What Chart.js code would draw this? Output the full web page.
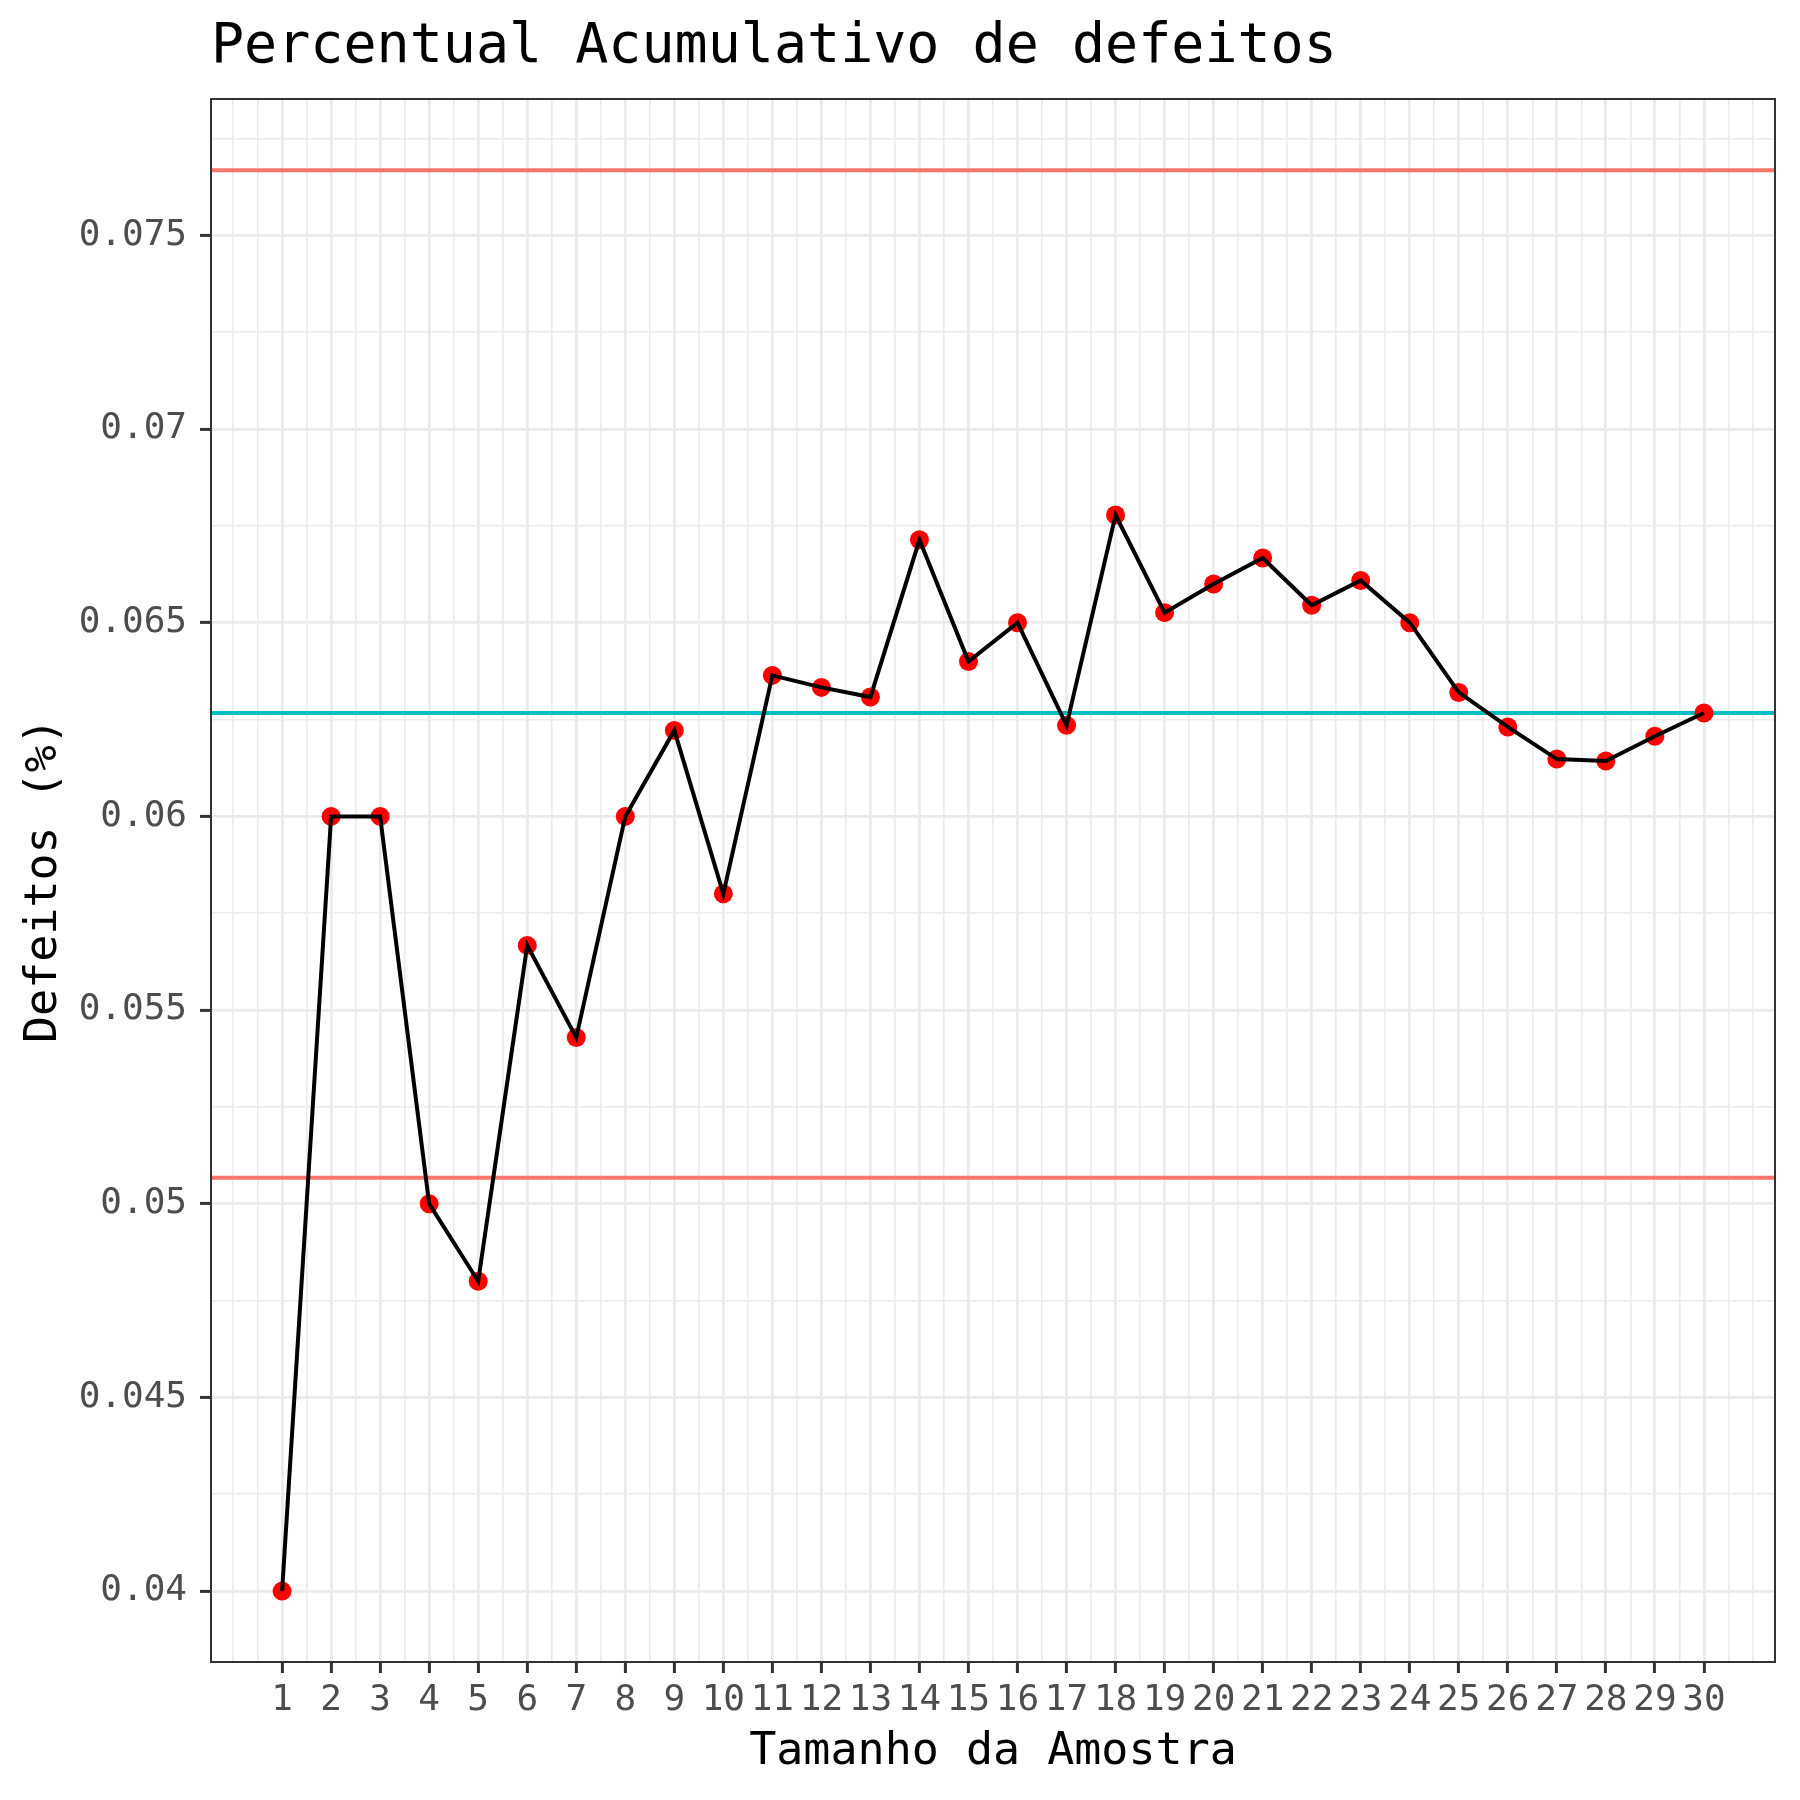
<!DOCTYPE html>
<html>
<head>
<meta charset="utf-8">
<script src="https://cdn.jsdelivr.net/npm/chart.js@4"></script>
<style>
  body { margin: 0; background: #fff; }
</style>
</head>
<body>
<canvas id="chart" width="1800" height="1800"></canvas>
<script>
// sample index and cumulative share of defects
var amostras = [1, 2, 3, 4, 5, 6, 7, 8, 9, 10, 11, 12, 13, 14, 15,
  16, 17, 18, 19, 20, 21, 22, 23, 24, 25, 26, 27, 28, 29, 30];
var defeitos = [0.04, 0.06, 0.06, 0.05, 0.048, 0.05667, 0.05429, 0.06, 0.06222, 0.058,
  0.06364, 0.06333, 0.06308, 0.06714, 0.064, 0.065, 0.06235, 0.06778, 0.06526, 0.066,
  0.06667, 0.06545, 0.06609, 0.065, 0.0632, 0.06231, 0.06148, 0.06143, 0.06207, 0.06267];

// control lines
var limiteSuperior = 0.07668;
var linhaCentral = 0.06267;
var limiteInferior = 0.05067;

// tick labels
var xBreaks = amostras;
var yBreaks = [0.04, 0.045, 0.05, 0.055, 0.06, 0.065, 0.07, 0.075];
var yLabels = ['0.04', '0.045', '0.05', '0.055', '0.06', '0.065', '0.07', '0.075'];

var xMin = -0.45, xMax = 31.45;
var yMin = 0.03817, yMax = 0.07852;

var FONT = "'DejaVu Sans Mono', monospace";

function isMajor(v, breaks) {
  return breaks.some(function (b) { return Math.abs(b - v) < 1e-9; });
}

function hline(y, color) {
  return {
    data: [{x: xMin, y: y}, {x: xMax, y: y}],
    borderColor: color,
    borderWidth: 4,
    pointRadius: 0,
    order: 2
  };
}

var panelBorder = {
  id: 'panelBorder',
  afterDraw: function (chart) {
    var a = chart.chartArea, ctx = chart.ctx;
    ctx.save();
    ctx.strokeStyle = '#333333';
    ctx.lineWidth = 2;
    ctx.strokeRect(a.left, a.top, a.right - a.left, a.bottom - a.top);
    ctx.restore();
  }
};

var pontos = amostras.map(function (x, i) { return {x: x, y: defeitos[i]}; });

new Chart(document.getElementById('chart'), {
  type: 'line',
  data: {
    datasets: [
      {
        data: pontos,
        borderColor: '#000000',
        borderWidth: 4,
        pointRadius: 0,
        tension: 0,
        order: 0
      },
      {
        data: pontos,
        showLine: false,
        pointRadius: 9.5,
        pointBackgroundColor: '#FF0000',
        pointBorderWidth: 0,
        order: 1
      },
      hline(limiteSuperior, '#F8766D'),
      hline(linhaCentral, '#00BFC4'),
      hline(limiteInferior, '#F8766D')
    ]
  },
  options: {
    responsive: false,
    animation: false,
    layout: { padding: { left: 0, right: 25, top: 0, bottom: 0 } },
    plugins: {
      legend: { display: false },
      tooltip: { enabled: false },
      title: {
        display: true,
        text: 'Percentual Acumulativo de defeitos',
        align: 'start',
        fullSize: false,
        color: '#000000',
        font: { family: FONT, size: 55, weight: 'normal', lineHeight: 1 },
        padding: { top: 20, bottom: 24 }
      }
    },
    scales: {
      x: {
        type: 'linear',
        min: xMin,
        max: xMax,
        afterFit: function (s) { s.height = 138; },
        afterBuildTicks: function (s) {
          var t = [];
          for (var v = 0; v <= 31; v += 0.5) t.push({value: v});
          s.ticks = t;
        },
        border: { display: false },
        grid: {
          color: '#EBEBEB',
          lineWidth: function (c) { return isMajor(c.tick.value, xBreaks) ? 2.8 : 1.6; },
          tickLength: 11,
          tickWidth: 3,
          tickColor: function (c) { return isMajor(c.tick.value, xBreaks) ? '#333333' : 'rgba(0,0,0,0)'; }
        },
        ticks: {
          autoSkip: false,
          maxRotation: 0,
          minRotation: 0,
          padding: 6,
          color: '#4D4D4D',
          font: { family: FONT, size: 36 },
          callback: function (v) { return isMajor(v, xBreaks) ? String(v) : ''; }
        },
        title: {
          display: true,
          text: 'Tamanho da Amostra',
          color: '#000000',
          font: { family: FONT, size: 45, lineHeight: 1 },
          padding: { top: 0, bottom: 25 }
        }
      },
      y: {
        type: 'linear',
        min: yMin,
        max: yMax,
        afterFit: function (s) { s.width = 211; },
        afterBuildTicks: function (s) {
          var t = [];
          for (var k = 15; k <= 31; k++) {
            var v = k * 0.0025;
            if (v >= yMin && v <= yMax) t.push({value: v});
          }
          s.ticks = t;
        },
        border: { display: false },
        grid: {
          color: '#EBEBEB',
          lineWidth: function (c) { return isMajor(c.tick.value, yBreaks) ? 2.8 : 1.6; },
          tickLength: 11,
          tickWidth: 3,
          tickColor: function (c) { return isMajor(c.tick.value, yBreaks) ? '#333333' : 'rgba(0,0,0,0)'; }
        },
        ticks: {
          autoSkip: false,
          padding: 13,
          color: '#4D4D4D',
          font: { family: FONT, size: 36 },
          callback: function (v) {
            for (var i = 0; i < yBreaks.length; i++) {
              if (Math.abs(yBreaks[i] - v) < 1e-9) return yLabels[i];
            }
            return '';
          }
        },
        title: {
          display: true,
          text: 'Defeitos (%)',
          color: '#000000',
          font: { family: FONT, size: 45, lineHeight: 1 },
          padding: { top: 22, bottom: 0 }
        }
      }
    }
  },
  plugins: [panelBorder]
});
</script>
</body>
</html>
